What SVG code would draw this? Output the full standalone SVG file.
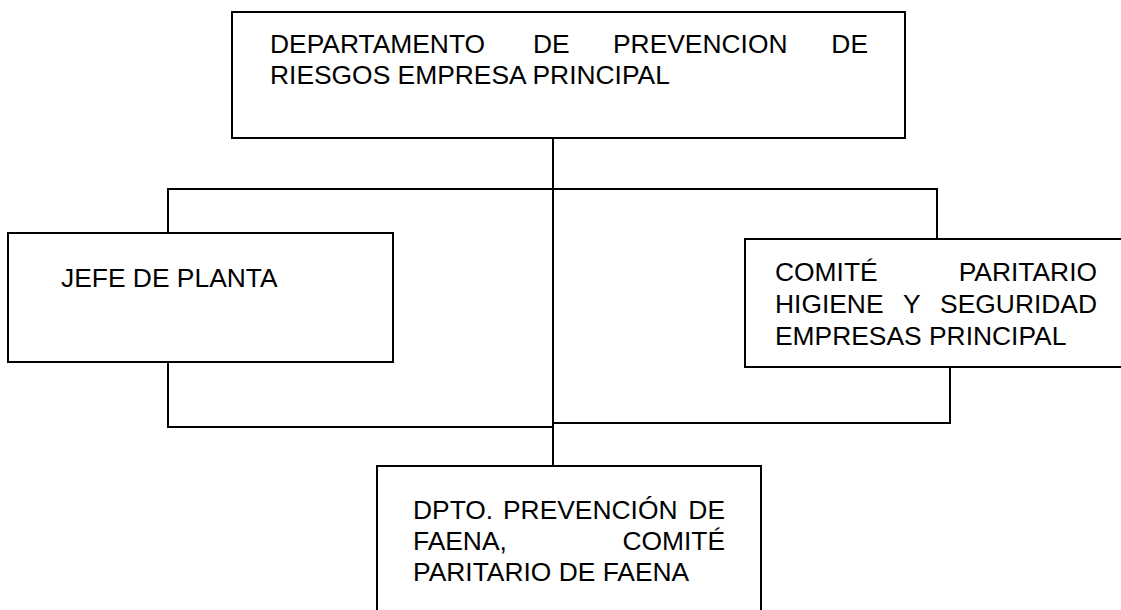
<svg xmlns="http://www.w3.org/2000/svg" width="1121" height="610" viewBox="0 0 1121 610">
<style>
.box{fill:#fff;stroke:#000;stroke-width:2}
.ln{fill:none;stroke:#000;stroke-width:2}
.t{font-family:"Liberation Sans",Arial,sans-serif;font-size:26.4px;fill:#000}
.e{text-anchor:end}
</style>
<rect width="1121" height="610" fill="#fff"/>
<g id="connectors">
<polyline class="ln" points="553,138 553,466"/>
<polyline class="ln" points="168,233 168,189 937,189 937,239"/>
<polyline class="ln" points="168,362 168,427 553,427"/>
<polyline class="ln" points="950,367 950,423 553,423"/>
</g>
<g id="n-departamento">
<rect class="box" x="232" y="12" width="673" height="126"/>
<text class="t" y="53"><tspan x="270">DEPARTAMENTO</tspan><tspan x="533">DE</tspan><tspan x="613">PREVENCION</tspan><tspan class="e" x="868">DE</tspan></text>
<text class="t" x="270" y="84">RIESGOS EMPRESA PRINCIPAL</text>
</g>
<g id="n-jefe">
<rect class="box" x="8" y="233" width="385" height="129"/>
<text class="t" x="61" y="287">JEFE DE PLANTA</text>
</g>
<g id="n-comite">
<rect class="box" x="745" y="239" width="390" height="128"/>
<text class="t" y="281"><tspan x="775">COMITÉ</tspan><tspan class="e" x="1097">PARITARIO</tspan></text>
<text class="t" y="313"><tspan x="775">HIGIENE</tspan><tspan x="903">Y</tspan><tspan class="e" x="1097">SEGURIDAD</tspan></text>
<text class="t" x="775" y="345">EMPRESAS PRINCIPAL</text>
</g>
<g id="n-faena">
<rect class="box" x="377" y="466" width="384" height="160"/>
<text class="t" y="519"><tspan x="413">DPTO.</tspan><tspan x="503">PREVENCIÓN</tspan><tspan class="e" x="725">DE</tspan></text>
<text class="t" y="550"><tspan x="413">FAENA,</tspan><tspan class="e" x="725">COMITÉ</tspan></text>
<text class="t" x="413" y="581">PARITARIO DE FAENA</text>
</g>
</svg>
